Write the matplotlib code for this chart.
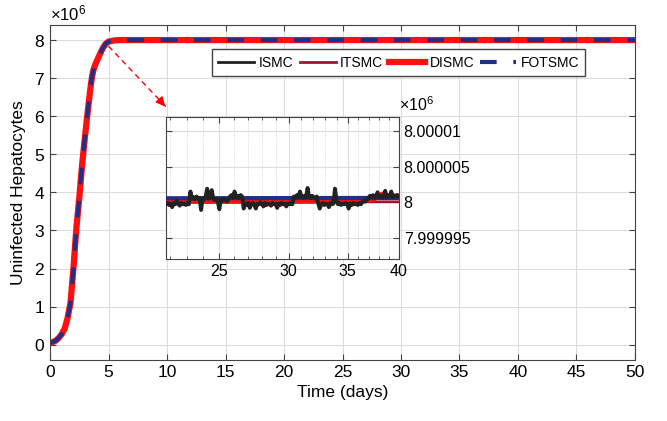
import matplotlib
matplotlib.use("Agg")
import matplotlib.pyplot as plt
import numpy as np
from matplotlib.ticker import FixedLocator, FuncFormatter, NullFormatter

plt.rcParams['font.family'] = ['Liberation Sans', 'DejaVu Sans']
plt.rcParams['mathtext.fontset'] = 'custom'
plt.rcParams['mathtext.rm'] = 'Liberation Sans'

# rise phase (days, cells) - same for all four controllers
t_rise = [0, 0.25, 0.5, 0.75, 1.0, 1.25, 1.5, 1.75, 2.0, 2.25, 2.5, 2.75, 3.0, 3.25,
          3.5, 3.6, 3.7, 3.8, 3.9, 4.0, 4.25, 4.5, 4.75, 5.0, 5.5, 6.0, 8.0, 14.0, 21.0]
y_rise = [0.05, 0.07, 0.11, 0.18, 0.28, 0.42, 0.7, 1.1, 2.0, 3.05, 3.85, 4.75, 5.5, 6.2,
          6.85, 7.05, 7.2, 7.3, 7.38, 7.45, 7.62, 7.78, 7.9, 7.96, 7.99, 8.0, 8.0, 8.0, 8.0]
y_rise = [v * 1e6 for v in y_rise]

# steady state offsets from 8e6 (cells)
ismc_dev = [-0.3, -0.1, -0.4, -0.2, -0.7, -0.1, -0.3, 0.2, -0.2, -0.5, -0.1, -0.3, -0.2, -0.4, -0.1, -0.3,
            1.5, 0.5,
            0.7, 0.4, 0.8, 0.5, 0.6, -1.1,
            0.6, 0.4, 0.8, 1.9, 0.5, 0.7, 1.7, 0.5,
            0.3, 0.5, 0.1, -1.0, 0.4, 0.2, 0.5, 0.3, 0.1, 0.4,
            0.8, 1.0, 0.6, 1.5, 0.7, 0.9, 0.6, 1.0, 0.8,
            -0.9, -0.2, -0.4, -0.1, -0.8, -0.3, -0.1, -0.4, -0.9, -0.2, -0.3, 0.0, -0.3, -0.6, -0.1, -0.4,
            -0.2, -0.3, -0.5, -0.1, -0.3, -0.2, -0.8, -0.2, -0.4, -0.1, -0.3, -0.2, -0.6, -0.2, -0.3, -0.1, -0.3,
            0.8, 0.6, 1.0, 0.7, 1.5, 0.8, 0.6, 0.9, 0.7, 2.0, 0.8, 0.6, 0.9, 0.7, 0.5, 0.8,
            -0.2, -0.9, -0.3, -0.1, -0.4, -0.2, -0.3, -0.7, -0.1, -0.3, -0.2, 1.9, 0.3, -0.3, -0.1, -0.4,
            -0.2, -0.3, -0.1, -0.2,
            -0.9, -0.2, -0.4, -0.1, -0.3, -0.2, -0.4, -0.1, -0.3, 0.0, 0.2, 0.1, 0.3,
            0.6, 0.9, 0.7, 1.0, 0.6, 0.8, 1.4, 0.7, 0.9, 0.6, 0.8, 1.6, 0.7, 0.9, 0.8, 1.5, 0.7, 0.9, 0.8,
            1.0, 0.8]
t_ismc = np.geomspace(21.8, 40, len(ismc_dev))

t_dismc = [21.8, 30.0, 36.5, 37.5, 38.3, 38.8, 40.0, 50.0]
dismc_dev = [0.05, 0.05, 0.1, 0.4, 1.2, 1.0, 0.9, 0.9]
t_itsmc = [21.8, 40.0, 50.0]
itsmc_dev = [0.05, 0.05, 0.05]
t_fotsmc = [21.8, 40.0, 50.0]
fotsmc_dev = [0.55, 0.6, 0.6]

base = 8e6
t_ismc_all = list(t_rise) + list(t_ismc) + [50.0]
y_ismc_all = y_rise + [base + d for d in ismc_dev] + [base]
t_itsmc_all = t_rise + t_itsmc
y_itsmc_all = y_rise + [base + d for d in itsmc_dev]
t_dismc_all = t_rise + t_dismc
y_dismc_all = y_rise + [base + d for d in dismc_dev]
t_fotsmc_all = t_rise + t_fotsmc
y_fotsmc_all = y_rise + [base + d for d in fotsmc_dev]

c_ismc = '#222222'
c_itsmc = '#A2142F'
c_dismc = '#FF1010'
c_fotsmc = '#1F2F8A'

fig = plt.figure(figsize=(6.67, 4.21), dpi=100)
ax = fig.add_axes([0.075, 0.145, 0.877, 0.796])

ax.plot(t_ismc_all, y_ismc_all, color=c_ismc, lw=2.0, label='ISMC')
ax.plot(t_itsmc_all, y_itsmc_all, color=c_itsmc, lw=2.0, label='ITSMC')
ax.plot(t_dismc_all, y_dismc_all, color=c_dismc, lw=4.5, label='DISMC')
ax.plot(t_fotsmc_all, y_fotsmc_all, color=c_fotsmc, lw=3.0, ls=(0, (4, 4)), label='FOTSMC')

ax.set_xlim(0, 50)
ax.set_ylim(-0.4e6, 8.4e6)
ax.set_xticks(np.arange(0, 51, 5))
ax.set_yticks(np.arange(0, 9) * 1e6)
ax.ticklabel_format(axis='y', style='sci', scilimits=(0, 0), useMathText=True)
ax.yaxis.get_offset_text().set_fontsize(12)
ax.grid(True, color='#dcdcdc', lw=0.8)
ax.set_axisbelow(True)
ax.tick_params(direction='in', top=True, right=True, labelsize=12.5, length=4, color='#444444')
for s in ax.spines.values():
    s.set_color('#444444')
ax.set_xlabel('Time (days)', fontsize=12.5, labelpad=4)
ax.set_ylabel('Uninfected Hepatocytes', fontsize=12.5, labelpad=6)

# zoom arrow
ax.plot([5.0, 9.9], [7.84e6, 6.25e6], color='red', lw=1, ls=(0, (4, 3)))
ax.annotate('', xy=(10.0, 6.2e6), xytext=(9.3, 6.45e6),
            arrowprops=dict(arrowstyle='-|>', color='red', lw=1, mutation_scale=14))

leg = ax.legend(loc='upper left', bbox_to_anchor=(0.318, 0.883), bbox_transform=fig.transFigure,
                ncol=4, fontsize=10, handlelength=2.6, handletextpad=0.3, columnspacing=0.45,
                borderpad=0.45, borderaxespad=0, fancybox=False, framealpha=1, edgecolor='#444444')
leg.get_frame().set_linewidth(1.0)

# inset
ax2 = fig.add_axes([0.249, 0.385, 0.349, 0.337])
ax2.plot(t_itsmc_all, y_itsmc_all, color=c_itsmc, lw=2.0, zorder=2)
ax2.plot(t_dismc_all, y_dismc_all, color=c_dismc, lw=3.0, zorder=3)
ax2.plot(t_fotsmc_all, y_fotsmc_all, color=c_fotsmc, lw=3.0, zorder=4)
ax2.plot(t_ismc_all, y_ismc_all, color=c_ismc, lw=2.8, zorder=5)
ax2.set_xscale('log')
ax2.set_xlim(21.8, 40)
ax2.set_ylim(7999992, 8000012)
ax2.xaxis.set_major_locator(FixedLocator([25, 30, 35, 40]))
ax2.xaxis.set_major_formatter(FuncFormatter(lambda v, p: '%d' % round(v)))
ax2.xaxis.set_minor_locator(FixedLocator([22, 23, 24, 26, 27, 28, 29, 31, 32, 33, 34, 36, 37, 38, 39]))
ax2.xaxis.set_minor_formatter(NullFormatter())
ax2.set_yticks([7999995, 8000000, 8000005, 8000010])
ax2.yaxis.set_major_formatter(FuncFormatter(lambda v, p: '{:.7g}'.format(v / 1e6)))
ax2.yaxis.tick_right()
ax2.grid(True, which='major', color='#dcdcdc', lw=0.8)
ax2.grid(True, which='minor', axis='x', color='#cccccc', lw=0.6, ls=':')
ax2.tick_params(which='both', direction='in', top=True, left=True, right=True,
                labelsize=11.5, color='#444444')
ax2.tick_params(which='major', length=4)
ax2.tick_params(which='minor', length=2)
for s in ax2.spines.values():
    s.set_color('#444444')
ax2.text(1.0, 1.02, r'$\times10^6$', transform=ax2.transAxes, ha='left', va='bottom', fontsize=11.5)

fig.savefig('out.png', dpi=100)
